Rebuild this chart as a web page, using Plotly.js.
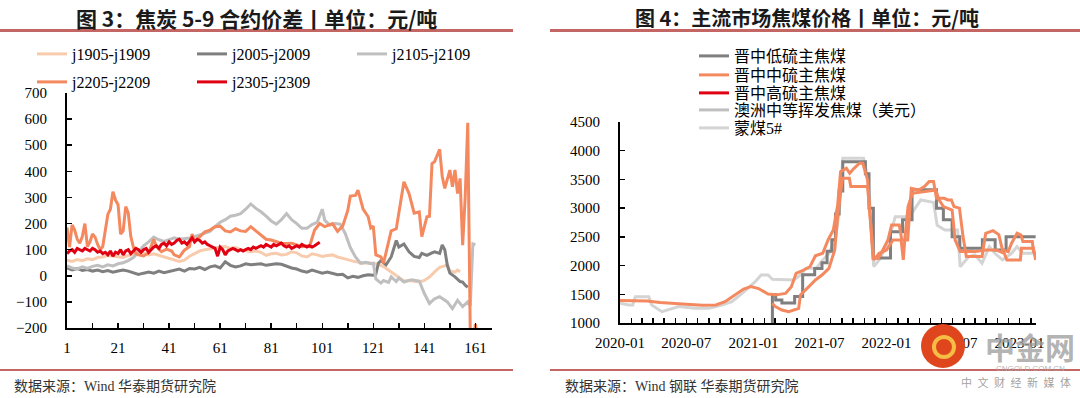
<!DOCTYPE html>
<html><head><meta charset="utf-8">
<script src="https://cdn.plot.ly/plotly-3.0.1.min.js"></script>
<style>html,body{margin:0;padding:0;background:#fff;} #chart{width:1080px;height:398px;}</style>
</head><body><div id="chart"></div>
<script>
// ---------- Left chart: 焦炭 5-9 合约价差 ----------
const j1905_x = [1,3,5,7,9,11,13,15,17,19,21,23,25,27,29,31,33,35,37,39,41,43,45,47,49,51,53,55,57,59,61,63,65,67,69,71,73,75,77,79,81,83,85,87,89,91,93,95,97,99,101,103,105,107,109,111,113,115,117,119,121,123,125,127,129,131,133,135,137,139,141,143,145,147,149,150,151,153,154,155];
const j1905_y = [60,55,62,58,65,62,70,72,78,75,72,70,78,82,85,86,80,84,78,72,65,58,55,60,75,85,95,100,104,108,110,112,105,108,100,96,92,95,90,78,84,86,80,82,92,88,76,72,84,80,74,78,80,72,68,62,56,52,48,50,47,44,35,22,8,-5,-20,-18,-22,-24,-18,-5,15,32,38,42,18,14,22,16];

const j2005_x = [1,3,5,7,9,11,13,15,17,19,21,23,25,27,29,31,33,35,37,39,41,43,45,47,49,51,53,55,57,59,61,63,65,67,69,71,73,75,77,79,81,83,85,87,89,91,93,95,97,99,101,103,105,107,109,111,113,115,117,119,121,122,123,124,126,128,130,131,133,135,137,139,140,142,144,145,147,148,149,150,151,153,155,156,157,158];
const j2005_y = [30,22,28,20,24,18,22,16,20,14,18,22,18,12,5,10,14,10,18,12,16,22,26,18,28,26,32,24,34,38,30,54,40,34,38,46,42,44,46,40,44,46,44,36,30,26,18,14,22,16,10,14,8,4,6,-8,-2,-6,0,4,2,6,48,58,42,72,135,110,122,92,74,70,86,78,88,92,86,118,100,40,10,-4,-22,-24,-36,-44];

const j2105_x = [1,3,5,7,9,11,13,15,17,19,21,23,25,27,29,31,33,35,37,39,41,43,45,47,49,51,53,55,57,59,61,63,65,67,69,71,73,75,77,79,81,83,85,87,89,91,93,95,97,99,101,102,104,106,108,110,112,114,116,118,120,121,122,124,125,127,128,130,131,133,136,139,141,143,145,147,150,152,154,156,158,159,160,161];
const j2105_y = [38,30,26,34,28,36,40,34,42,38,46,50,58,70,90,115,130,148,138,132,138,145,140,142,145,150,156,162,170,188,205,215,228,232,238,255,275,258,245,228,210,198,215,238,215,200,182,182,196,205,255,212,194,200,198,162,108,72,48,52,46,48,-12,-28,-18,-25,-4,-22,-8,-24,-15,-20,-68,-106,-88,-80,-100,-126,-94,-118,-100,-115,122,120];

const j2205_x = [1,2,3,4,5,6,7,8,9,10,11,12,13,14,15,16,17,18,19,20,21,22,23,24,25,26,27,28,29,31,33,35,36,38,40,42,43,45,47,49,50,51,53,55,57,59,61,63,65,67,69,71,73,75,77,79,81,83,85,87,89,91,93,95,96,98,100,102,104,105,107,109,111,112,114,115,117,119,120,121,122,124,125,126,128,130,132,133,135,137,139,140,142,143,144,145,147,148,149,151,152,153,154,155,156,157,158,159,160,161,162];
const j2205_y = [185,110,195,175,140,125,150,200,112,130,160,148,120,100,112,175,235,255,322,290,272,160,172,265,240,150,110,85,80,76,88,140,112,92,102,95,80,72,98,112,160,130,150,168,175,188,190,172,168,180,172,170,188,172,155,140,137,130,125,124,125,118,111,115,112,175,200,188,195,200,170,190,250,305,308,328,255,226,183,190,80,72,48,86,172,180,292,360,315,240,245,150,226,228,430,437,484,380,335,405,341,405,315,373,117,300,586,-230,-260,-185,-250];

const j2305_x = [1,2,3,4,5,6,7,8,9,10,11,12,13,14,15,16,17,18,19,20,21,22,23,24,25,26,27,28,29,30,31,32,33,34,35,36,37,38,39,40,41,42,43,44,45,46,47,48,49,50,51,52,53,54,55,56,57,58,59,60,61,62,63,64,65,66,67,68,69,70,71,72,73,74,75,76,77,78,79,80,81,82,83,84,85,86,87,88,89,90,91,92,93,94,95,96,97,98,99,100];
const j2305_y = [85,95,100,90,105,100,95,105,100,95,105,100,90,95,85,90,80,95,75,90,85,100,80,95,100,85,95,105,100,90,100,105,90,100,110,115,105,120,125,115,130,120,125,135,140,125,130,120,135,145,130,140,135,125,130,120,115,110,105,75,110,100,80,95,100,105,100,95,100,95,100,105,100,110,105,110,115,110,120,115,110,120,115,120,125,115,110,115,105,110,115,110,120,115,110,115,110,115,120,128];

const leftNames = ['j1905-j1909','j2005-j2009','j2105-j2109','j2205-j2209','j2305-j2309'];
const leftColors = ['#f8cbad','#7f7f7f','#bfbfbf','#f4895f','#e00012'];
const leftTicks = [1,21,41,61,81,101,121,141,161];

// ---------- Right chart: 主流市场焦煤价格 ----------
const rightNames = ['晋中低硫主焦煤','晋中中硫主焦煤','晋中高硫主焦煤','澳洲中等挥发焦煤（美元）','蒙煤5#'];
const rightColors = ['#7f7f7f','#f4895f','#e00012','#bfbfbf','#d9d9d9'];

const low_d = ['2021-02-21','2021-02-22','2021-03-03','2021-03-20','2021-04-24','2021-05-16','2021-06-18','2021-07-08','2021-07-22','2021-08-04','2021-08-14','2021-08-24','2021-09-03','2021-11-04','2021-11-14','2021-11-26','2022-01-12','2022-02-14','2022-03-12','2022-05-18','2022-06-06','2022-06-30','2022-07-21','2022-09-21','2022-10-26','2022-11-25','2023-02-14'];
const low_v = [0,1490,1400,1350,1460,1840,1950,2050,2250,2450,2900,3300,3810,3600,3000,2130,2590,2800,3320,3000,2800,2500,2300,2450,2270,2500,2500];

const mid_d = ['2020-01-01','2020-03-15','2020-04-20','2020-05-20','2020-07-01','2020-08-15','2020-09-20','2020-10-15','2020-11-10','2020-12-05','2020-12-25','2021-01-15','2021-02-10','2021-03-05','2021-03-30','2021-04-15','2021-04-28','2021-05-15','2021-06-05','2021-06-20','2021-07-10','2021-07-25','2021-08-08','2021-08-20','2021-08-28','2021-09-13','2021-09-22','2021-10-04','2021-10-19','2021-10-28','2021-11-10','2021-11-25','2021-12-10','2021-12-20','2022-01-05','2022-01-15','2022-02-05','2022-02-12','2022-02-28','2022-03-10','2022-03-30','2022-04-15','2022-04-28','2022-05-10','2022-05-18','2022-06-08','2022-06-18','2022-06-28','2022-07-05','2022-07-20','2022-07-30','2022-08-08','2022-09-20','2022-09-30','2022-10-20','2022-11-05','2022-11-15','2022-12-01','2022-12-10','2022-12-25','2023-01-05','2023-01-10','2023-02-05','2023-02-08','2023-02-14'];
const mid_v = [1390,1385,1355,1340,1325,1310,1315,1370,1490,1590,1635,1600,1505,1490,1515,1630,1865,1910,1980,2170,2215,2450,2620,3050,3636,3694,3607,3694,3782,3782,3491,2127,2127,2243,2446,2707,2707,2446,2446,3346,3317,3375,3462,3462,3172,3172,3143,3143,3027,3000,2500,2156,2156,2562,2608,2540,2272,2243,2390,2562,2530,2417,2417,2243,2214];

const high_d = ['2021-02-22','2021-03-02','2021-03-20','2021-04-08','2021-05-05','2021-05-10','2021-06-02','2021-06-20','2021-07-08','2021-07-27','2021-08-12','2021-08-20','2021-09-02','2021-09-21','2021-09-25','2021-11-10','2021-11-19','2021-11-27','2021-12-12','2022-01-01','2022-01-19','2022-02-10','2022-02-16','2022-02-20','2022-03-01','2022-03-13','2022-05-16','2022-05-25','2022-06-06','2022-06-30','2022-07-08','2022-07-22','2022-09-01','2022-10-01','2022-10-28','2022-11-20','2022-11-27','2023-01-03','2023-01-06','2023-02-08','2023-02-14'];
const high_v = [1343,1285,1226,1197,1255,1488,1633,1749,1836,1952,2272,2852,3520,3520,3375,3375,2707,2098,2214,2272,2446,2446,2098,2446,3027,3259,3317,3143,3027,2968,2446,2243,2243,2272,2272,2214,2098,2098,2301,2301,2098];

const meng_d = ['2020-01-01','2020-01-25','2020-02-05','2020-02-12','2020-03-20','2020-03-28','2020-04-25','2020-05-22','2020-06-10','2020-07-25','2020-09-01','2020-10-06','2020-11-03','2020-12-01','2020-12-20','2021-01-06','2021-01-22','2021-02-10','2021-02-22','2021-03-22','2021-04-22','2021-05-10','2021-05-25','2021-06-22','2021-07-10','2021-07-28','2021-08-15','2021-08-25','2021-09-03','2021-10-30','2021-11-12','2021-11-27','2021-12-12','2022-01-05','2022-01-25','2022-03-05','2022-04-05','2022-05-10','2022-05-20','2022-06-10','2022-07-15','2022-07-22','2022-08-15','2022-09-01','2022-09-20','2022-10-10','2022-10-25','2022-11-15','2022-12-10','2022-12-25','2023-01-10','2023-02-14'];
const meng_v = [1343,1314,1314,1459,1459,1314,1197,1255,1285,1255,1255,1314,1372,1517,1633,1720,1836,1836,1760,1749,1749,1836,1952,1952,2097,2214,2504,3000,3869,3869,3500,1981,2100,2400,2852,2852,3143,3100,2700,2620,2620,1981,2156,2185,2040,2330,2214,2098,2214,2330,2214,2214];

const rightYTicks = [1000,1500,2000,2500,3000,3500,4000,4500];

// ---------- helpers ----------
const W = 1080, H = 398;
const px = v => v / W;
const py = v => 1 - v / H;
const serif = 'Liberation Serif, Times New Roman, serif';
const cjk = 'Noto Sans CJK SC, sans-serif';
const mixed = 'Liberation Serif, Noto Sans CJK SC, serif';

const traces = [];
const lx = [j1905_x, j2005_x, j2105_x, j2205_x, j2305_x];
const ly = [j1905_y, j2005_y, j2105_y, j2205_y, j2305_y];
for (let i = 0; i < 5; i++) {
  traces.push({
    type: 'scatter', mode: 'lines', x: lx[i], y: ly[i], name: leftNames[i],
    line: {color: leftColors[i], width: 3}, xaxis: 'x', yaxis: 'y',
    legend: i < 3 ? 'legend' : 'legend3', hoverinfo: 'skip'
  });
}
// right chart (each legend entry in its own legend box for exact row spacing)
traces.push({type:'scatter', mode:'lines', x: meng_d, y: meng_v, name: rightNames[4], line:{color:'#d4d4d4', width:3}, xaxis:'x2', yaxis:'y2', legend:'legend7', hoverinfo:'skip'});
traces.push({type:'scatter', mode:'lines', x: [null], y: [null], name: rightNames[3], line:{color:rightColors[3], width:3}, xaxis:'x2', yaxis:'y2', legend:'legend6', hoverinfo:'skip'});
traces.push({type:'scatter', mode:'lines', x: low_d, y: low_v, name: rightNames[0], line:{color:rightColors[0], width:3, shape:'hv'}, xaxis:'x2', yaxis:'y2', legend:'legend2', hoverinfo:'skip'});
traces.push({type:'scatter', mode:'lines', x: high_d, y: high_v, name: rightNames[2], line:{color:'#f4895f', width:3}, xaxis:'x2', yaxis:'y2', legend:'legend5', legendgroup:'high', showlegend:false, hoverinfo:'skip'});
traces.push({type:'scatter', mode:'lines', x: [null], y: [null], name: rightNames[2], line:{color:rightColors[2], width:3}, xaxis:'x2', yaxis:'y2', legend:'legend5', legendgroup:'high', hoverinfo:'skip'});
traces.push({type:'scatter', mode:'lines', x: mid_d, y: mid_v, name: rightNames[1], line:{color:rightColors[1], width:3}, xaxis:'x2', yaxis:'y2', legend:'legend4', hoverinfo:'skip'});

const axisCommon = {
  showline: true, linecolor: '#000', linewidth: 2, mirror: false,
  ticks: 'inside', ticklen: 5, tickwidth: 1.5, tickcolor: '#000',
  showgrid: false, zeroline: false, fixedrange: true,
  tickfont: {family: serif, size: 15, color: '#000'}
};

const legBase = (x, yTop, orient, font) => ({
  orientation: orient, x: px(x), y: py(yTop), xanchor: 'left', yanchor: 'top',
  bgcolor: 'rgba(0,0,0,0)', font: font, itemclick: false, itemdoubleclick: false
});
const leftLegFont = {family: serif, size: 16, color: '#000'};
const rightLegFont = {family: mixed, size: 16, color: '#000'};

const layout = {
  width: W, height: H, margin: {l:0, r:0, t:0, b:0},
  paper_bgcolor: '#fff', plot_bgcolor: 'rgba(0,0,0,0)',
  showlegend: true,
  xaxis: Object.assign({}, axisCommon, {
    domain: [px(67), px(492)], anchor: 'y', range: [1, 167.5],
    tickmode: 'array', tickvals: leftTicks, ticktext: leftTicks.map(String),
    minor: {tickmode: 'linear', tick0: 1, dtick: 10, ticks: 'inside', ticklen: 5, tickwidth: 1.5, tickcolor: '#000', showgrid: false},
    ticklabelstandoff: 5
  }),
  yaxis: Object.assign({}, axisCommon, {
    domain: [py(328), py(93)], anchor: 'x', range: [-200, 700], dtick: 100, tick0: 0,
    ticklabelstandoff: 15
  }),
  xaxis2: Object.assign({}, axisCommon, {
    domain: [px(620), px(1036)], anchor: 'y2', type: 'date',
    range: ['2020-01-01', '2023-02-15'], tick0: '2020-01-01', dtick: 'M6', tickformat: '%Y-%m',
    minor: {dtick: 'M1', ticks: 'inside', ticklen: 5, tickwidth: 1.5, tickcolor: '#000', showgrid: false},
    ticklabelstandoff: 5
  }),
  yaxis2: Object.assign({}, axisCommon, {
    domain: [py(323), py(122)], anchor: 'x2', range: [1000, 4500],
    tickmode: 'array', tickvals: rightYTicks, ticktext: rightYTicks.map(String),
    ticklabelstandoff: 15
  }),
  legend: Object.assign(legBase(32, 37, 'h', leftLegFont), {entrywidth: 115, entrywidthmode: 'pixels'}),
  legend3: Object.assign(legBase(32, 65, 'h', leftLegFont), {entrywidth: 115, entrywidthmode: 'pixels'}),
  legend2: legBase(694, 39, 'v', rightLegFont),
  legend4: legBase(694, 58, 'v', rightLegFont),
  legend5: legBase(694, 76, 'v', rightLegFont),
  legend6: legBase(694, 93, 'v', rightLegFont),
  legend7: legBase(694, 111, 'v', rightLegFont),
  shapes: [
    {type:'line', xref:'paper', yref:'paper', x0:0, x1:px(513), y0:py(30.5), y1:py(30.5), line:{color:'#c46664', width:3}},
    {type:'line', xref:'paper', yref:'paper', x0:px(550), x1:1, y0:py(30.5), y1:py(30.5), line:{color:'#c46664', width:3}},
    {type:'line', xref:'paper', yref:'paper', x0:0, x1:px(513), y0:py(370), y1:py(370), line:{color:'#c46664', width:2}},
    {type:'line', xref:'paper', yref:'paper', x0:px(550), x1:1, y0:py(370), y1:py(370), line:{color:'#c46664', width:2}},
    {type:'circle', xref:'paper', yref:'paper', layer:'above', x0:px(921), x1:px(965), y0:py(368), y1:py(324), fillcolor:'#e0461d', line:{width:0}},
    {type:'circle', xref:'paper', yref:'paper', layer:'above', x0:px(934), x1:px(954), y0:py(357), y1:py(337), fillcolor:'rgba(0,0,0,0)', line:{color:'#f6bd45', width:4}}
  ],
  annotations: [
    {xref:'paper', yref:'paper', x:px(256), y:py(18), text:'图 3：焦炭 5-9 合约价差丨单位：元/吨', showarrow:false, xanchor:'center', yanchor:'middle',
     font:{family: cjk, size: 21, color:'#1a1a1a', weight: 'bold'}},
    {xref:'paper', yref:'paper', x:px(807), y:py(18), text:'图 4：主流市场焦煤价格丨单位：元/吨', showarrow:false, xanchor:'center', yanchor:'middle',
     font:{family: cjk, size: 20, color:'#1a1a1a', weight: 'bold'}},
    {xref:'paper', yref:'paper', x:px(12), y:py(386), text:'数据来源：Wind 华泰期货研究院', showarrow:false, xanchor:'left', yanchor:'middle',
     font:{family: mixed, size: 14, color:'#333'}},
    {xref:'paper', yref:'paper', x:px(563), y:py(386), text:'数据来源：Wind 钢联 华泰期货研究院', showarrow:false, xanchor:'left', yanchor:'middle',
     font:{family: mixed, size: 14, color:'#333'}},
    {xref:'paper', yref:'paper', x:px(1030), y:py(346), text:'中金网', showarrow:false, xanchor:'center', yanchor:'middle',
     font:{family: cjk, size: 30, color:'rgba(160,160,160,0.8)', weight:'bold'}},
    {xref:'paper', yref:'paper', x:px(1030), y:py(368), text:'CNGOLD.COM.CN', showarrow:false, xanchor:'center', yanchor:'middle',
     font:{family: 'Liberation Sans, sans-serif', size: 8, color:'rgba(170,170,170,0.9)'}},
    {xref:'paper', yref:'paper', x:px(1016), y:py(382), text:'中\u2002文\u2002财\u2002经\u2002新\u2002媒\u2002体', showarrow:false, xanchor:'center', yanchor:'middle',
     font:{family: cjk, size: 11, color:'rgba(150,150,150,0.9)'}}
  ]
};

Plotly.newPlot('chart', traces, layout, {staticPlot: true, displayModeBar: false});
</script></body></html>
